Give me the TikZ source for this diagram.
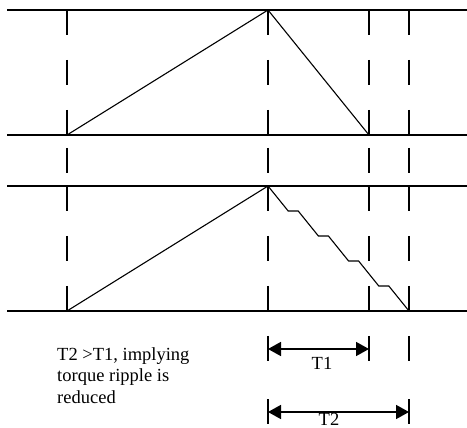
\documentclass[tikz,border=0pt]{standalone}
\usepackage{fontspec}
\setmainfont{Liberation Serif}
\usetikzlibrary{arrows.meta}

\begin{document}
\begin{tikzpicture}[x=1pt,y=-1pt,
	axis/.style={line width=1.3pt},
	wave/.style={line width=1.1pt},
	guide/.style={line width=1.3pt,dash pattern=on 25pt off 25pt on 25pt off 25pt on 25pt off 13pt on 25pt off 13pt on 25pt off 25pt on 25pt off 25pt on 25pt},
	tick/.style={line width=1.3pt},
	span/.style={line width=1.5pt,{Triangle[length=13pt,width=14pt]}-{Triangle[length=13pt,width=14pt]}},
	note/.style={font=\fontsize{18.5}{21.7}\selectfont,inner sep=0pt}
]
\useasboundingbox (0,0) rectangle (467,428);

% Rails of the two plots
\draw[axis] (7,10) -- (467,10);
\draw[axis] (7,135) -- (467,135);
\draw[axis] (7,186) -- (467,186);
\draw[axis] (7,311) -- (467,311);

% Dashed time markers
\foreach \x in {67,268,369,409}
	\draw[guide] (\x,10) -- (\x,311);

% Upper waveform
\coordinate (a0) at (67,135);
\coordinate (a1) at (268,10);
\coordinate (a2) at (369,135);
\draw[wave] (a0) -- (a1) -- (a2);

% Lower waveform, stepped fall
\coordinate (b0) at (67,311);
\coordinate (b1) at (268,186);
\coordinate (b2) at (409,311);
\draw[wave] (b0) -- (b1) \foreach \i in {1,...,4} { -- ++(20.2,25) -- ++(10,0) } -- (b2);

% Interval T1
\coordinate (t1l) at (268,349);
\coordinate (t1r) at (369,349);
\foreach \x in {268,369,409}
	\draw[tick] (\x,336) -- (\x,361);
\draw[span] (t1l) -- (t1r);
\node[note,anchor=base] (T1) at (322,370) {T1};

% Interval T2
\coordinate (t2l) at (268,412);
\coordinate (t2r) at (409,412);
\foreach \x in {268,409}
	\draw[tick] (\x,399) -- (\x,424);
\draw[span] (t2l) -- (t2r);
\node[note,anchor=base] (T2) at (329,425) {T2};

% Remark
\node[note,anchor=north west,align=left] (remark) at (57,347) {T2 >T1, implying\\torque ripple is\\reduced};

\end{tikzpicture}
\end{document}
